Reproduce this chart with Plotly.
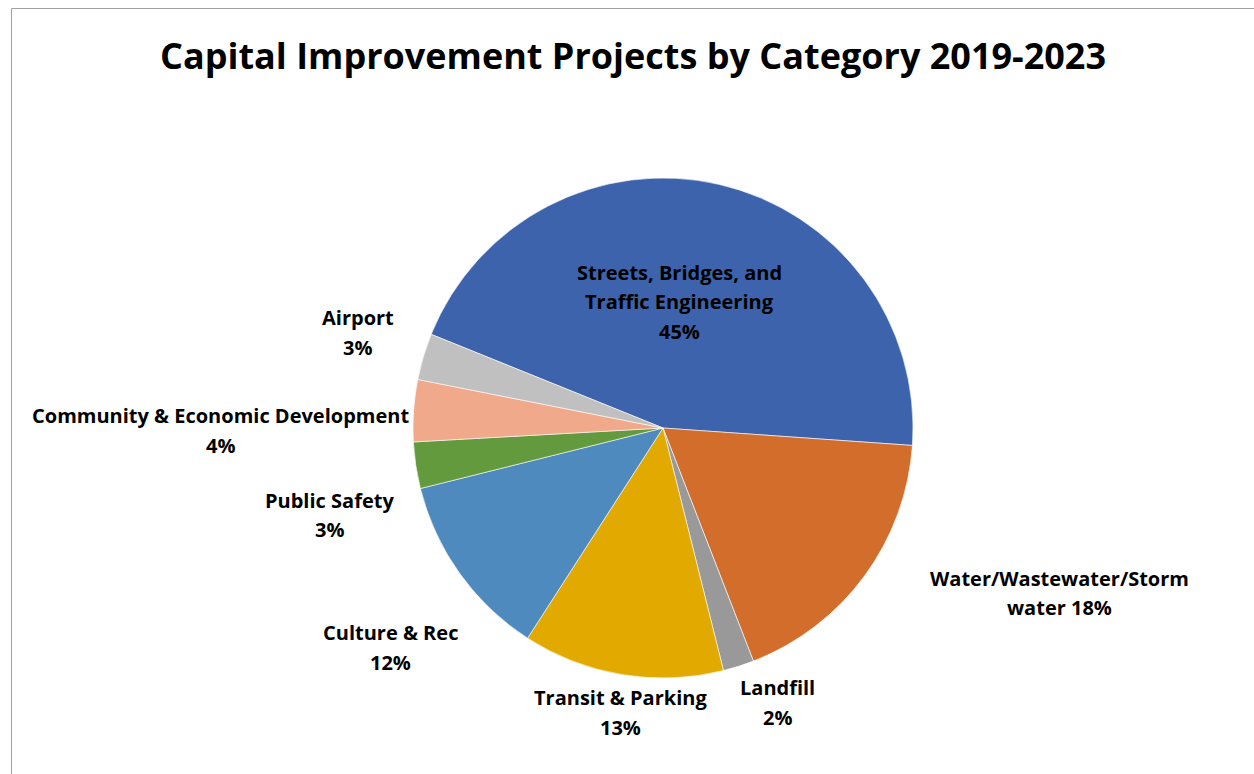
import math
import plotly.graph_objects as go

# Capital improvement spending share by category, 2019-2023 (percent)
categories = [
    "Streets, Bridges, and Traffic Engineering",
    "Water/Wastewater/Storm water",
    "Landfill",
    "Transit & Parking",
    "Culture & Rec",
    "Public Safety",
    "Community & Economic Development",
    "Airport",
]
shares = [45, 18, 2, 13, 12, 3, 4, 3]

# How each category name wraps in its label
label_lines = [
    ["Streets, Bridges, and", "Traffic Engineering"],
    ["Water/Wastewater/Storm", "water"],
    ["Landfill"],
    ["Transit & Parking"],
    ["Culture & Rec"],
    ["Public Safety"],
    ["Community & Economic Development"],
    ["Airport"],
]
# percent shares the last name line instead of getting its own
pct_inline = [False, True, False, False, False, False, False, False]

colors = ["#3C63AC", "#D36D2B", "#999999", "#E2AA00",
          "#4F8ABE", "#629A3D", "#F0A98A", "#C0C0C0"]

W, H = 1254, 774
CX, CY, R = 663, 428, 250          # pie centre and radius in pixels
START = 292                        # first slice starts here, degrees clockwise from 12 o'clock

# label placement: distance from centre (in radii) and angular nudge (degrees)
label_radius = [0.51, 1.72, 1.19, 1.15, 1.40, 1.38, 1.77, 1.28]
label_nudge = [-5.4, -13.8, -5.1, -0.8, -3.2, -6.0, -4.3, 0.8]
LINE_PITCH = 29.5
FONT = "Open Sans"

fig = go.Figure(
    go.Pie(
        labels=categories,
        values=shares,
        sort=False,
        direction="clockwise",
        rotation=START,
        marker=dict(colors=colors, line=dict(color="white", width=0.6)),
        textinfo="none",
        hoverinfo="label+percent",
        showlegend=False,
        domain=dict(
            x=[(CX - R) / W, (CX + R) / W],
            y=[1 - (CY + R) / H, 1 - (CY - R) / H],
        ),
    )
)

total = sum(shares)
annotations = []
cum = 0.0
for i, v in enumerate(shares):
    mid = START + (cum + v / 2) / total * 360 + label_nudge[i]
    cum += v
    a = math.radians(mid)
    px = CX + label_radius[i] * R * math.sin(a)
    py = CY - label_radius[i] * R * math.cos(a)
    pct = f"{round(v / total * 100)}%"
    lines = list(label_lines[i])
    if pct_inline[i]:
        lines[-1] = lines[-1] + " " + pct
    else:
        lines.append(pct)
    n = len(lines)
    for j, line in enumerate(lines):
        annotations.append(dict(
            x=px / W, y=1 - py / H, xref="paper", yref="paper",
            text=line, showarrow=False,
            xanchor="center", yanchor="middle",
            yshift=-(j - (n - 1) / 2) * LINE_PITCH,
            font=dict(family=FONT, size=20, color="black", weight="bold"),
        ))

fig.update_layout(
    width=W, height=H,
    margin=dict(l=0, r=0, t=0, b=0),
    paper_bgcolor="white",
    plot_bgcolor="white",
    title=dict(
        text="Capital Improvement Projects by Category 2019-2023",
        x=633 / W, y=1 - 56 / H, xanchor="center", yanchor="middle",
        xref="paper", yref="container",
        font=dict(family=FONT, size=36, color="black", weight="bold"),
    ),
    annotations=annotations,
    shapes=[dict(
        type="rect", xref="paper", yref="paper",
        x0=11.5 / W, x1=1.02, y0=-0.02, y1=1 - 8.5 / H,
        line=dict(color="#A0A0A0", width=1),
        fillcolor="rgba(0,0,0,0)", layer="below",
    )],
)

fig.write_html("out.html")
